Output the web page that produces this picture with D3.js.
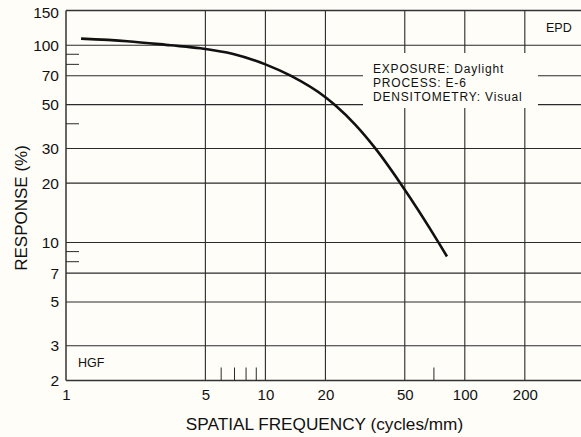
<!DOCTYPE html>
<html>
<head>
<meta charset="utf-8">
<script src="https://cdn.jsdelivr.net/npm/d3@7/dist/d3.min.js"></script>
<style>
  html, body { margin: 0; padding: 0; background: #fefdf8; }
  svg { display: block; }
  text { font-family: "Liberation Sans", Arial, Helvetica, sans-serif; fill: #111; }
</style>
</head>
<body>
<svg id="chart" width="581" height="437"></svg>
<script>
// ---- data ----
const freq     = [1.19, 2.03, 3.34, 4.72, 6.9, 10, 13.3, 20, 22.4, 28.2, 35.6, 47.5, 73.9, 81.4];
const response = [108, 104.8, 100, 96.6, 90.3, 80, 70.3, 54.5, 49.6, 39.6, 30, 20, 10, 8.5];

const xTicks = [1, 5, 10, 20, 50, 100, 200];
const yTicks = [2, 3, 5, 7, 10, 20, 30, 50, 70, 100, 150];
const yGrid  = [3, 5, 7, 10, 20, 30, 100];
const yGridBroken = [50, 70];
const xGrid  = [5, 10, 20];
const xGridBroken = [50, 100, 200];
const xMinor = [6, 7, 8, 9, 70];
const yMinor = [90, 80, 40, 9, 8];
const infoLines = ["EXPOSURE: Daylight", "PROCESS: E-6", "DENSITOMETRY: Visual"];

// ---- layout ----
const W = 581, H = 437;
const padL = 66, padT = 10.5, padB = 380.5;
const svg = d3.select("#chart");

const x = d3.scaleLog().domain([1, 1000]).range([padL, padL + 3 * 199.4]);
const y = d3.scaleLog().domain([2, 150]).range([padB, padT]);

const g = svg.append("g");
const gridColor = "#2a2a2a";

// box gap region
const boxX0 = 363, boxX1 = 538, boxY0 = 53, boxY1 = 108;

// horizontal grid
g.selectAll(".hg").data(yGrid).join("line")
  .attr("x1", padL).attr("x2", W)
  .attr("y1", d => y(d)).attr("y2", d => y(d))
  .attr("stroke", gridColor).attr("stroke-width", 1.1);
yGridBroken.forEach(v => {
  g.append("line").attr("x1", padL).attr("x2", boxX0).attr("y1", y(v)).attr("y2", y(v))
    .attr("stroke", gridColor).attr("stroke-width", 1.1);
  g.append("line").attr("x1", boxX1).attr("x2", W).attr("y1", y(v)).attr("y2", y(v))
    .attr("stroke", gridColor).attr("stroke-width", 1.1);
});

// vertical grid
g.selectAll(".vg").data(xGrid).join("line")
  .attr("x1", d => x(d)).attr("x2", d => x(d))
  .attr("y1", padT).attr("y2", padB)
  .attr("stroke", gridColor).attr("stroke-width", 1.1);
xGridBroken.forEach(v => {
  g.append("line").attr("x1", x(v)).attr("x2", x(v)).attr("y1", padT).attr("y2", boxY0)
    .attr("stroke", gridColor).attr("stroke-width", 1.1);
  g.append("line").attr("x1", x(v)).attr("x2", x(v)).attr("y1", boxY1).attr("y2", padB)
    .attr("stroke", gridColor).attr("stroke-width", 1.1);
});

// frame: top, left, bottom
g.append("line").attr("x1", padL).attr("x2", W).attr("y1", padT).attr("y2", padT)
  .attr("stroke", "#333").attr("stroke-width", 1.5);
g.append("line").attr("x1", padL).attr("x2", padL).attr("y1", padT).attr("y2", padB)
  .attr("stroke", "#333").attr("stroke-width", 1.5);
g.append("line").attr("x1", padL).attr("x2", W).attr("y1", padB).attr("y2", padB)
  .attr("stroke", "#333").attr("stroke-width", 1.5);

// minor ticks
g.selectAll(".xm").data(xMinor).join("line")
  .attr("x1", d => x(d)).attr("x2", d => x(d))
  .attr("y1", padB - 13).attr("y2", padB)
  .attr("stroke", gridColor).attr("stroke-width", 1);
g.selectAll(".ym").data(yMinor).join("line")
  .attr("x1", padL).attr("x2", padL + 13)
  .attr("y1", d => y(d)).attr("y2", d => y(d))
  .attr("stroke", gridColor).attr("stroke-width", 1);

// tick labels
const xAxis = d3.axisBottom(x).tickValues(xTicks).tickSize(0).tickPadding(9)
  .tickFormat(d3.format("d"));
const xa = svg.append("g").attr("transform", `translate(0,${padB})`).call(xAxis);
xa.select(".domain").remove();
xa.selectAll("text").style("font-size", "15px").attr("fill", "#111")
  .style("font-family", "'Liberation Sans', Arial, sans-serif");

const yAxis = d3.axisLeft(y).tickValues(yTicks).tickSize(0).tickPadding(7)
  .tickFormat(d3.format("d"));
const ya = svg.append("g").attr("transform", `translate(${padL},0)`).call(yAxis);
ya.select(".domain").remove();
ya.selectAll("text").style("font-size", "15.5px").attr("fill", "#111")
  .style("font-family", "'Liberation Sans', Arial, sans-serif");
ya.selectAll(".tick").filter(d => d === 150).select("text").attr("dy", "0.45em");

// curve
const line = d3.line()
  .x((d, i) => x(freq[i]))
  .y((d, i) => y(response[i]))
  .curve(d3.curveMonotoneX);
svg.append("path").datum(freq).attr("d", line)
  .attr("fill", "none").attr("stroke", "#111").attr("stroke-width", 2.6)
  .attr("stroke-linecap", "butt");

// labels inside
svg.append("text").attr("x", 546).attr("y", 32).style("font-size", "12.5px").text("EPD");
svg.append("text").attr("x", 78).attr("y", 367).style("font-size", "12.5px").text("HGF");
svg.append("g").selectAll("text").data(infoLines).join("text")
  .attr("x", 373).attr("y", (d, i) => 73 + i * 13.8)
  .style("font-size", "12px").style("letter-spacing", "0.8px").text(d => d);

// axis titles
svg.append("text").attr("x", 324.5).attr("y", 430).attr("text-anchor", "middle")
  .style("font-size", "17.2px").text("SPATIAL FREQUENCY (cycles/mm)");
svg.append("text").attr("transform", "translate(27,208) rotate(-90)")
  .attr("text-anchor", "middle").style("font-size", "17px").text("RESPONSE (%)");
</script>
</body>
</html>
